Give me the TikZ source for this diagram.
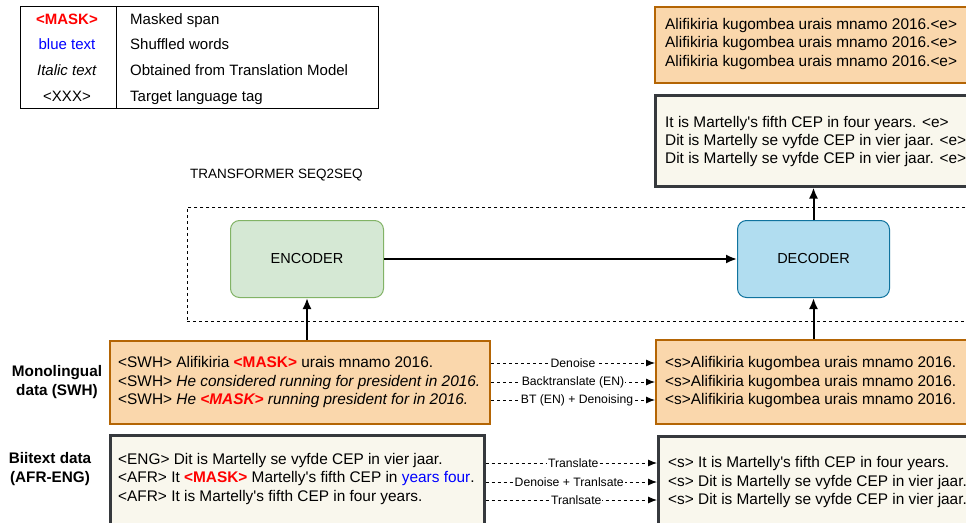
\documentclass[tikz,border=0pt]{standalone}
\usepackage{fontspec}
\setmainfont{Liberation Sans}
\usetikzlibrary{arrows.meta}
\definecolor{orF}{HTML}{FAD7AC}
\definecolor{orD}{HTML}{B46504}
\definecolor{beF}{HTML}{F9F7ED}
\definecolor{beD}{HTML}{36393D}
\definecolor{grF}{HTML}{D5E8D4}
\definecolor{grD}{HTML}{82B366}
\definecolor{blF}{HTML}{B1DDF0}
\definecolor{blD}{HTML}{10739E}
\newcommand{\maskw}{\textcolor{red}{\textbf{<MASK>}}}
\newcommand{\apos}{\textquotesingle}
\begin{document}
\begin{tikzpicture}[x=1pt,y=-1pt,
  txt/.style={font=\fontsize{15.4}{17}\selectfont, inner sep=0pt, anchor=west, text height=11pt, text depth=3pt},
  legtxt/.style={font=\fontsize{15}{17}\selectfont, inner sep=0pt, text height=11pt, text depth=3pt},
  orangebox/.style={draw=orD, fill=orF, line width=2pt, anchor=north west, inner sep=0pt},
  beigebox/.style={draw=beD, fill=beF, line width=2.5pt, anchor=north west, inner sep=0pt},
  blockbox/.style={rounded corners=9pt, line width=1pt, anchor=north west, inner sep=0pt, font=\fontsize{14.5}{16}\selectfont},
  dasharrow/.style={draw, line width=0.9pt, dash pattern=on 3pt off 3pt, -{Latex[length=9pt,width=7pt]}},
  solidarrow/.style={draw, line width=2pt, -{Latex[length=11pt,width=9pt]}},
  elabel/.style={fill=white, inner sep=1pt, font=\fontsize{12.2}{13}\selectfont, solid},
  sidelabel/.style={align=center, font=\fontsize{15.3}{19}\selectfont\bfseries, inner sep=0pt}
]
\clip (0,0) rectangle (966,522);
\fill[white] (0,0) rectangle (966,522);

% legend
\node[draw, line width=1pt, anchor=north west, minimum width=358, minimum height=102, inner sep=0pt] (legend) at (20,6) {};
\coordinate (divtop) at (116,6);
\draw[line width=1pt] (divtop) -- (divtop |- legend.south);
\node[legtxt] (lk1) at (67,20) {\textcolor{red}{\textbf{<MASK>}}};
\node[legtxt] (lk2) at (67,45) {\textcolor{blue}{blue text}};
\node[legtxt] (lk3) at (67,71) {\textit{Italic text}};
\node[legtxt] (lk4) at (67,97) {<XXX>};
\node[legtxt, anchor=west] (lv1) at (130,20) {Masked span};
\node[legtxt, anchor=west] (lv2) at (130,45) {Shuffled words};
\node[legtxt, anchor=west] (lv3) at (130,71) {Obtained from Translation Model};
\node[legtxt, anchor=west] (lv4) at (130,97) {Target language tag};

% top-right output boxes
\node[orangebox, minimum width=330, minimum height=76] (out1) at (654,6) {};
\node[txt] (a1) at (665,25) {Alifikiria kugombea urais mnamo 2016.<e>};
\node[txt] (a2) at (665,43) {Alifikiria kugombea urais mnamo 2016.<e>};
\node[txt] (a3) at (665,62) {Alifikiria kugombea urais mnamo 2016.<e>};

\node[beigebox, minimum width=330, minimum height=91] (out2) at (654,94) {};
\node[txt] (b1) at (665,123) {It is Martelly\apos s fifth CEP in four years. <e>};
\node[txt] (b2) at (665,141) {Dit is Martelly se vyfde CEP in vier jaar. <e>};
\node[txt] (b3) at (665,159) {Dit is Martelly se vyfde CEP in vier jaar. <e>};

% transformer
\node[anchor=west, inner sep=0pt, font=\fontsize{13.5}{16}\selectfont] (title) at (190,175) {TRANSFORMER SEQ2SEQ};
\node[draw, line width=0.9pt, dash pattern=on 3pt off 3pt, anchor=north west, minimum width=800, minimum height=114, inner sep=0pt] (frame) at (187,207) {};
\node[blockbox, draw=grD, fill=grF, minimum width=153, minimum height=77] (enc) at (230,220) {ENCODER};
\node[blockbox, draw=blD, fill=blF, minimum width=152, minimum height=77] (dec) at (737,220) {DECODER};
\draw[solidarrow] (enc.east) -- (dec.west);
\draw[solidarrow] (dec.north) -- (dec.north |- out2.south);

% monolingual
\node[sidelabel] (monolab) at (57,382) {Monolingual\\data (SWH)};
\node[orangebox, minimum width=380, minimum height=83] (swh) at (109,340) {};
\node[txt] (s1) at (118,363) {<SWH> Alifikiria \maskw{} urais mnamo 2016.};
\node[txt] (s2) at (118,382) {<SWH> \textit{He considered running for president in 2016.}};
\node[txt] (s3) at (118,400) {<SWH> \textit{He \maskw{} running president for in 2016.}};

\node[orangebox, minimum width=330, minimum height=84] (swhout) at (655,339) {};
\node[txt] (t1) at (665,363) {<s>Alifikiria kugombea urais mnamo 2016.};
\node[txt] (t2) at (665,382) {<s>Alifikiria kugombea urais mnamo 2016.};
\node[txt] (t3) at (665,400) {<s>Alifikiria kugombea urais mnamo 2016.};

\draw[dasharrow] (swh.east |- t1.west) -- node[elabel] {Denoise} (swhout.west |- t1.west);
\draw[dasharrow] (swh.east |- t2.west) -- node[elabel] {Backtranslate (EN)} (swhout.west |- t2.west);
\draw[dasharrow] (swh.east |- t3.west) -- node[elabel, xshift=4pt] {BT (EN) + Denoising} (swhout.west |- t3.west);

\draw[solidarrow] (swh.north -| enc.south) -- (enc.south);
\draw[solidarrow] (swhout.north -| dec.south) -- (dec.south);

% bitext
\node[sidelabel] (bilab) at (50,469) {Biitext data\\(AFR-ENG)};
\node[beigebox, minimum width=374, minimum height=110] (bi) at (109,434) {};
\node[txt] (u1) at (118,460) {<ENG> Dit is Martelly se vyfde CEP in vier jaar.};
\node[txt] (u2) at (118,478) {<AFR> It \maskw{} Martelly\apos s fifth CEP in \textcolor{blue}{years four}.};
\node[txt] (u3) at (118,497) {<AFR> It is Martelly\apos s fifth CEP in four years.};

\node[beigebox, minimum width=330, minimum height=110] (biout) at (657,435) {};
\node[txt] (v1) at (668,463) {<s> It is Martelly\apos s fifth CEP in four years.};
\node[txt] (v2) at (668,482) {<s> Dit is Martelly se vyfde CEP in vier jaar.};
\node[txt] (v3) at (668,500) {<s> Dit is Martelly se vyfde CEP in vier jaar.};

\draw[dasharrow] (bi.east |- v1.west) -- node[elabel, xshift=2pt] {Translate} (biout.west |- v1.west);
\draw[dasharrow] (bi.east |- v2.west) -- node[elabel, xshift=-2pt] {Denoise + Tranlsate} (biout.west |- v2.west);
\draw[dasharrow] (bi.east |- v3.west) -- node[elabel, xshift=5pt] {Tranlsate} (biout.west |- v3.west);
\end{tikzpicture}
\end{document}
